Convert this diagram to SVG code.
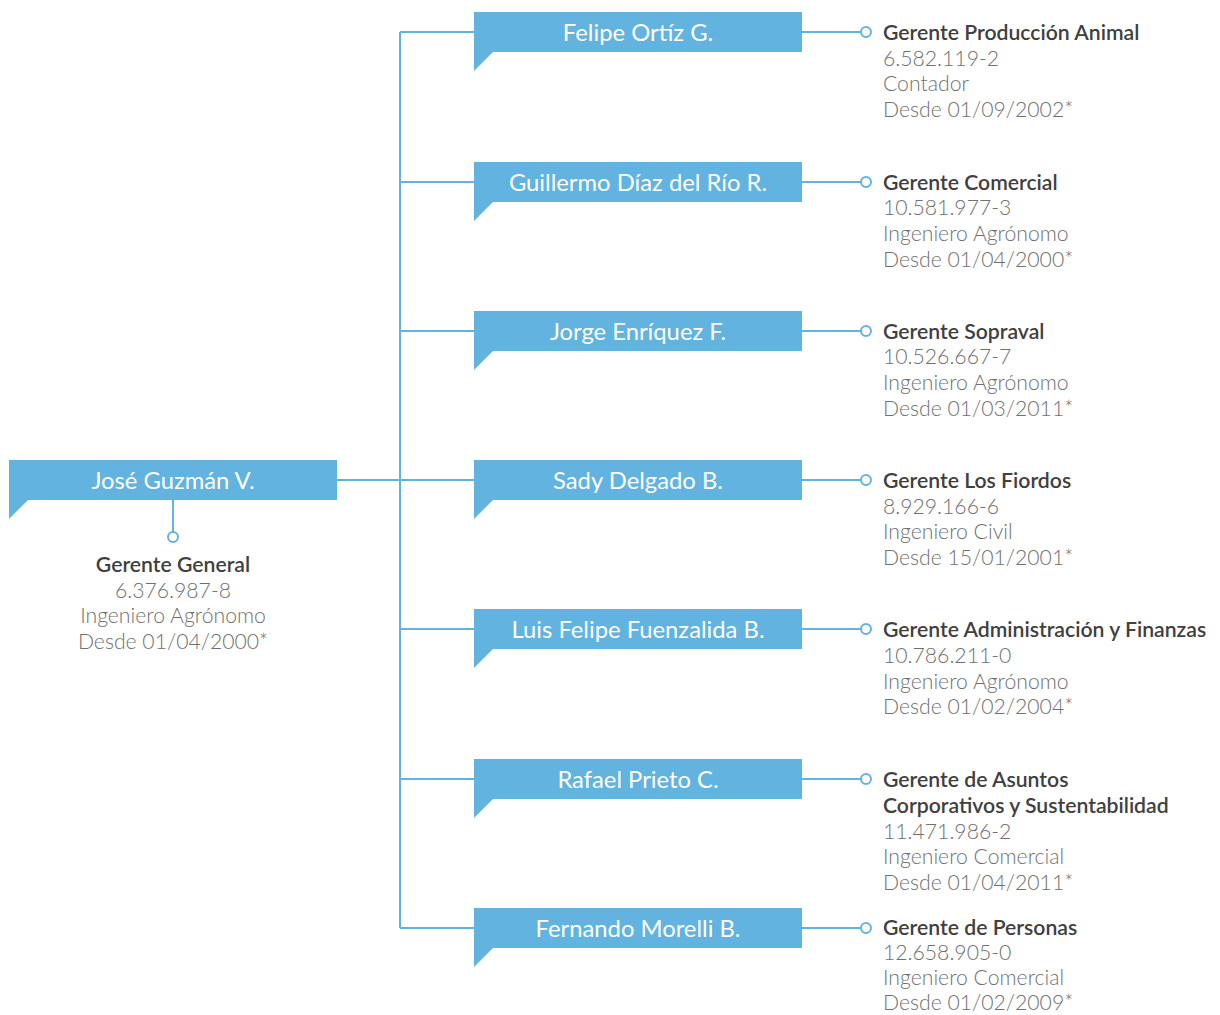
<svg xmlns="http://www.w3.org/2000/svg" width="1220" height="1015" viewBox="0 0 1220 1015">
<defs>
<style>
.box{fill:#62b3e0}
.name{font-family:Lato,"Open Sans",sans-serif;font-size:23.8px;fill:#ffffff;text-anchor:middle}
.t{font-family:Lato,"Open Sans",sans-serif;font-size:21.2px;fill:#404040;font-weight:600}
.d{font-family:Lato,"Open Sans",sans-serif;font-size:21.2px;fill:#707070;font-weight:300}
.ln{stroke:#62b3e0;stroke-width:2;fill:none}
.dot{stroke:#62b3e0;stroke-width:2;fill:#ffffff}
</style>
<g id="tag">
<rect class="box" x="0" y="0" width="328" height="40"/>
<polygon class="box" points="0,39 20,39 0,59"/>
</g>
</defs>
<rect width="1220" height="1015" fill="#ffffff"/>
<g id="connectors">
<path class="ln" d="M400,32 V928"/>
<path class="ln" d="M337,480 H474"/>
<path class="ln" d="M400,32 H474 M400,182 H474 M400,331 H474 M400,629 H474 M400,779 H474 M400,928 H474"/>
<path class="ln" d="M173,500 V532"/>
<path class="ln" d="M802,32 H861 M802,182 H861 M802,331 H861 M802,480 H861 M802,629 H861 M802,779 H861 M802,928 H861"/>
<circle class="dot" cx="173" cy="537" r="5"/>
<circle class="dot" cx="866" cy="32" r="5"/>
<circle class="dot" cx="866" cy="182" r="5"/>
<circle class="dot" cx="866" cy="331" r="5"/>
<circle class="dot" cx="866" cy="480" r="5"/>
<circle class="dot" cx="866" cy="629" r="5"/>
<circle class="dot" cx="866" cy="779" r="5"/>
<circle class="dot" cx="866" cy="928" r="5"/>
</g>
<g id="jose">
<use href="#tag" x="9" y="460"/>
<text class="name" x="173" y="489">José Guzmán V.</text>
<text class="t" x="173" y="572" text-anchor="middle">Gerente General</text>
<text class="d" x="173" y="598" text-anchor="middle">6.376.987-8</text>
<text class="d" x="173" y="623" text-anchor="middle">Ingeniero Agrónomo</text>
<text class="d" x="173" y="649" text-anchor="middle">Desde 01/04/2000*</text>
</g>
<g id="felipe">
<use href="#tag" x="474" y="12"/>
<text class="name" x="638" y="41">Felipe Ortíz G.</text>
<text class="t" x="883" y="40">Gerente Producción Animal</text>
<text class="d" x="883" y="66">6.582.119-2</text>
<text class="d" x="883" y="91">Contador</text>
<text class="d" x="883" y="117">Desde 01/09/2002*</text>
</g>
<g id="guillermo">
<use href="#tag" x="474" y="162"/>
<text class="name" x="638" y="191">Guillermo Díaz del Río R.</text>
<text class="t" x="883" y="190">Gerente Comercial</text>
<text class="d" x="883" y="215">10.581.977-3</text>
<text class="d" x="883" y="241">Ingeniero Agrónomo</text>
<text class="d" x="883" y="267">Desde 01/04/2000*</text>
</g>
<g id="jorge">
<use href="#tag" x="474" y="311"/>
<text class="name" x="638" y="340">Jorge Enríquez F.</text>
<text class="t" x="883" y="339">Gerente Sopraval</text>
<text class="d" x="883" y="364">10.526.667-7</text>
<text class="d" x="883" y="390">Ingeniero Agrónomo</text>
<text class="d" x="883" y="416">Desde 01/03/2011*</text>
</g>
<g id="sady">
<use href="#tag" x="474" y="460"/>
<text class="name" x="638" y="489">Sady Delgado B.</text>
<text class="t" x="883" y="488">Gerente Los Fiordos</text>
<text class="d" x="883" y="514">8.929.166-6</text>
<text class="d" x="883" y="539">Ingeniero Civil</text>
<text class="d" x="883" y="565">Desde 15/01/2001*</text>
</g>
<g id="luis">
<use href="#tag" x="474" y="609"/>
<text class="name" x="638" y="638">Luis Felipe Fuenzalida B.</text>
<text class="t" x="883" y="637">Gerente Administración y Finanzas</text>
<text class="d" x="883" y="663">10.786.211-0</text>
<text class="d" x="883" y="689">Ingeniero Agrónomo</text>
<text class="d" x="883" y="714">Desde 01/02/2004*</text>
</g>
<g id="rafael">
<use href="#tag" x="474" y="759"/>
<text class="name" x="638" y="788">Rafael Prieto C.</text>
<text class="t" x="883" y="787">Gerente de Asuntos</text>
<text class="t" x="883" y="813">Corporativos y Sustentabilidad</text>
<text class="d" x="883" y="839">11.471.986-2</text>
<text class="d" x="883" y="864">Ingeniero Comercial</text>
<text class="d" x="883" y="890">Desde 01/04/2011*</text>
</g>
<g id="fernando">
<use href="#tag" x="474" y="908"/>
<text class="name" x="638" y="937">Fernando Morelli B.</text>
<text class="t" x="883" y="935">Gerente de Personas</text>
<text class="d" x="883" y="960">12.658.905-0</text>
<text class="d" x="883" y="985">Ingeniero Comercial</text>
<text class="d" x="883" y="1010">Desde 01/02/2009*</text>
</g>
</svg>
